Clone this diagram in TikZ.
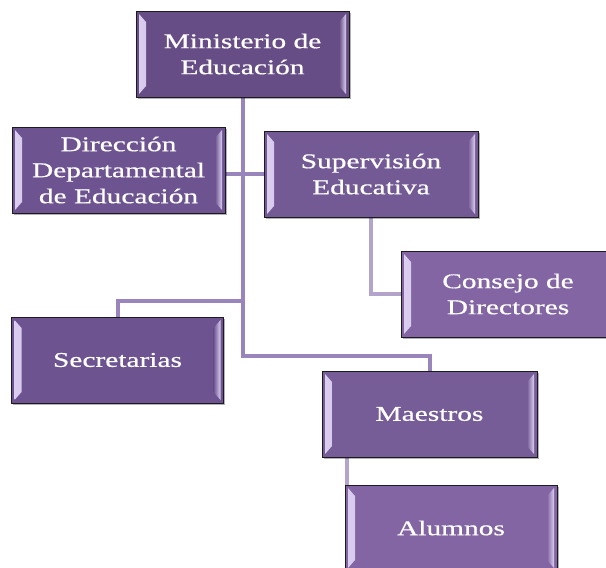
\documentclass[tikz,border=0pt]{standalone}
\usepackage{fontspec}
\usepackage{tikz}
\usetikzlibrary{positioning, calc, shadows, backgrounds}
\newfontfamily\boxfont{Liberation Serif}[FakeStretch=1.4, FakeBold=0.6]
\definecolor{ink}{HTML}{1C1A20}
\definecolor{boxA}{HTML}{674D85}
\definecolor{boxB}{HTML}{6D5390}
\definecolor{boxC}{HTML}{735A94}
\definecolor{boxD}{HTML}{775D98}
\definecolor{boxE}{HTML}{8265A2}
\definecolor{lineA}{HTML}{9A84BC}
\definecolor{lineB}{HTML}{B4A4CC}
\definecolor{bevel}{HTML}{DCCFF0}

\begin{document}
\begin{tikzpicture}[
  x=1pt, y=-1pt,
  box/.style={rectangle, draw=ink, line width=1pt, fill=#1,
              minimum width=213pt, minimum height=86pt, inner sep=2pt,
              align=center, text=white, font=\boxfont\fontsize{21}{26}\selectfont,
              drop shadow={shadow xshift=1.5pt, shadow yshift=-2pt, fill=black, opacity=0.3},
              path picture={
                \shade[left color=bevel, right color=#1]
                  ([shift={(3pt,-3pt)}]path picture bounding box.north west)
                  -- ([shift={(10pt,-11pt)}]path picture bounding box.north west)
                  -- ([shift={(10pt,11pt)}]path picture bounding box.south west)
                  -- ([shift={(3pt,3pt)}]path picture bounding box.south west) -- cycle;
                \shade[left color=#1, right color=bevel]
                  ([shift={(-3pt,-3pt)}]path picture bounding box.north east)
                  -- ([shift={(-10pt,-11pt)}]path picture bounding box.north east)
                  -- ([shift={(-10pt,11pt)}]path picture bounding box.south east)
                  -- ([shift={(-3pt,3pt)}]path picture bounding box.south east) -- cycle;
              }},
  box/.default=boxC,
  conn/.style={line width=4pt, draw=lineA},
  conn2/.style={line width=4pt, draw=lineB}
]
\clip (0,0) rectangle (606,568);

\node[box=boxA] (min) at (242.5,54) {Ministerio de\\Educación};
\node[box=boxB] (dir) at (118.5,170) {Dirección\\Departamental\\de Educación};
\node[box=boxC, minimum width=214pt] (sup) at (371,174) {Supervisión\\Educativa};
\node[box=boxE, minimum width=214pt] (cons) at (508,294) {Consejo de\\Directores};
\node[box=boxB, minimum width=212pt] (sec) at (117.5,360) {Secretarias};
\node[box=boxD, minimum width=215pt] (mae) at (429.5,414) {Maestros};
\node[box=boxE, minimum width=212pt] (alu) at (451,528) {Alumnos};

\begin{scope}[on background layer]
\draw[conn] (min.south) -- ++(0,258) -| (mae.north);
\draw[conn] (min.south) ++(0,203) -| (sec.north);
\draw[conn] (dir.east |- sup.west) -- (sup.west);
\draw[conn2] (sup.south) |- (cons.west);
\draw[conn2] ([xshift=2pt]alu.north west) -- ([xshift=2pt]alu.north west |- mae.south);
\end{scope}
\end{tikzpicture}
\end{document}
